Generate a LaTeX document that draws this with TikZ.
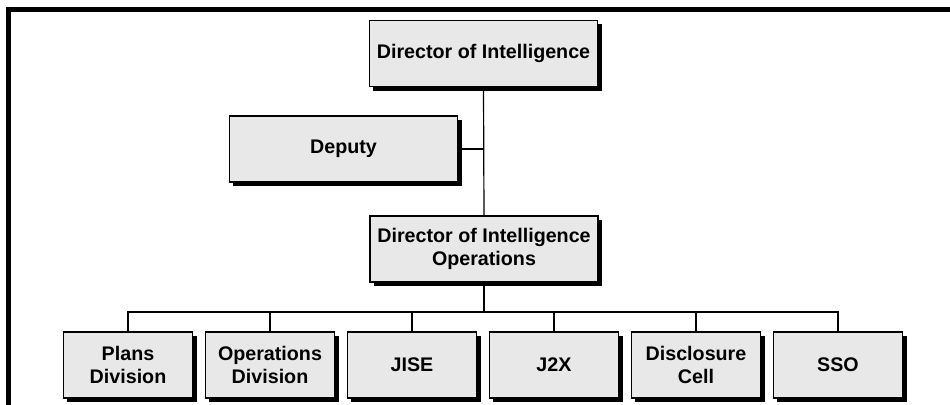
\documentclass[tikz,border=0pt]{standalone}
\usepackage{fontspec}
\setmainfont{Liberation Sans}
\usepackage{tikz}
\usetikzlibrary{positioning, shadows}
\usepackage{xcolor}
\definecolor{boxgrey}{HTML}{E8E8E8}

\tikzset{
    unit/.style={draw=black, line width=1.05pt, fill=boxgrey, align=center,
        font=\fontsize{14}{16.6}\selectfont\bfseries, inner sep=0pt,
        minimum height=1.65cm,
        drop shadow={fill=black, opacity=1, shadow xshift=0.1cm, shadow yshift=-0.1cm}},
    bigunit/.style={unit, minimum width=5.7cm},
    smallunit/.style={unit, minimum width=3.225cm},
    link/.style={line width=0.85pt}
}

\begin{document}
\begin{tikzpicture}[x=0.025cm, y=-0.025cm]
    \useasboundingbox (0,0) rectangle (950,404);

    % Outer frame (cut off right and bottom)
    \draw[line width=3.5pt, line join=miter] (8.5,430) -- (8.5,9.5) -- (980,9.5);

    % Top of the chain
    \node[bigunit] (dint) at (483.5,53.5) {Director of Intelligence};
    \node[bigunit] (deputy) at (343.5,149) {Deputy};
    \node[bigunit] (dio) at (484,249) {Director of Intelligence\\Operations};

    % Divisions and cells
    \node[smallunit] (plans) at (128,365) {Plans\\Division};
    \node[smallunit] (ops) at (270,365) {Operations\\Division};
    \node[smallunit] (jise) at (412,365) {JISE};
    \node[smallunit] (jtwox) at (554,365) {J2X};
    \node[smallunit] (disc) at (696,365) {Disclosure\\Cell};
    \node[smallunit] (sso) at (838,365) {SSO};

    % Trunk and deputy branch
    \draw[link] (dint.south) -- (dio.north);
    \draw[link] (deputy.east) -- (deputy.east -| dint.south);

    % Bus to the bottom row
    \coordinate (bus) at (484,312);
    \draw[link] (dio.south) -- (bus);
    \draw[link] (plans.north) -- (plans.north |- bus) -- (sso.north |- bus) -- (sso.north);
    \foreach \u in {ops, jise, jtwox, disc}
        \draw[link] (\u.north) -- (\u.north |- bus);
\end{tikzpicture}
\end{document}
